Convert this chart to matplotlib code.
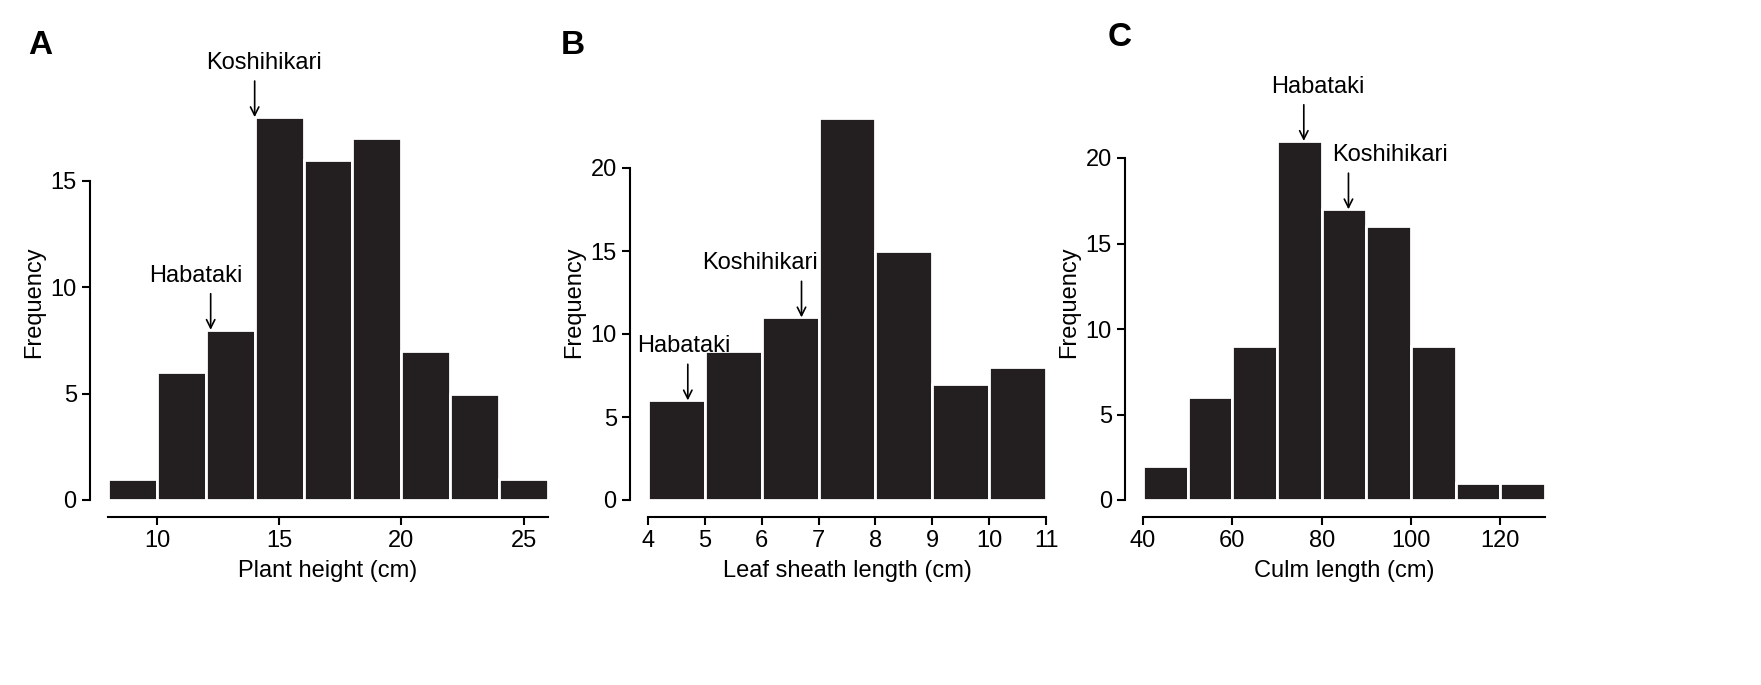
import matplotlib.pyplot as plt
import numpy as np

plt.rcParams['font.family'] = ['Liberation Sans', 'DejaVu Sans']

# Panel A: plant height
a_edges = np.arange(8, 27, 2)
a_counts = [1, 6, 8, 18, 16, 17, 7, 5, 1]
a_ticks = [10, 15, 20, 25]
a_yticks = [0, 5, 10, 15]
# (label, arrow x, bar height, text shift in px)
a_marks = [("Koshihikari", 14.0, 18, 9), ("Habataki", 12.2, 8, -15)]

# Panel B: leaf sheath length
b_edges = np.arange(4, 12, 1)
b_counts = [6, 9, 11, 23, 15, 7, 8]
b_ticks = [4, 5, 6, 7, 8, 9, 10, 11]
b_yticks = [0, 5, 10, 15, 20]
b_marks = [("Habataki", 4.7, 6, -4), ("Koshihikari", 6.7, 11, -42)]

# Panel C: culm length
c_edges = np.arange(40, 131, 10)
c_counts = [2, 6, 9, 21, 17, 16, 9, 1, 1]
c_ticks = [40, 60, 80, 100, 120]
c_yticks = [0, 5, 10, 15, 20]
c_marks = [("Habataki", 76, 21, 14), ("Koshihikari", 86, 17, 42)]

W, H = 1761, 685
fig = plt.figure(figsize=(W / 100, H / 100), dpi=100)


def panel(px_left, px_right, px_per_unit, edges, counts, xticks, yticks,
          xlabel, marks, letter, letter_xy):
    bottom, top = 500, 105
    ax = fig.add_axes([px_left / W, (H - bottom) / H,
                       (px_right - px_left) / W, (bottom - top) / H])
    ax.bar(edges[:-1], counts, width=np.diff(edges), align='edge',
           color='#231f20', edgecolor='white', linewidth=2)
    ax.set_xlim(edges[0], edges[-1])
    ax.set_ylim(0, (bottom - top) / px_per_unit)
    for s in ['top', 'right']:
        ax.spines[s].set_visible(False)
    ax.spines['left'].set_position(('outward', 13))
    ax.spines['bottom'].set_position(('outward', 12))
    ax.spines['left'].set_bounds(yticks[0], yticks[-1])
    ax.spines['bottom'].set_bounds(edges[0], edges[-1])
    for s in ['left', 'bottom']:
        ax.spines[s].set_linewidth(1.5)
    ax.set_xticks(xticks)
    ax.set_yticks(yticks)
    ax.tick_params(labelsize=17, width=1.5, length=6)
    ax.set_xlabel(xlabel, fontsize=17, labelpad=6)
    ax.set_ylabel("Frequency", fontsize=17)
    for name, x, y, dx in marks:
        ax.annotate('', xy=(x, y), xytext=(0, 26), textcoords='offset points',
                    arrowprops=dict(arrowstyle='->', color='black', lw=1.2,
                                    shrinkA=0, shrinkB=0, mutation_scale=15))
        ax.annotate(name, xy=(x, y), xytext=(dx * 0.72, 31),
                    textcoords='offset points', ha='center', va='bottom',
                    fontsize=17)
    fig.text(letter_xy[0] / W, 1 - letter_xy[1] / H, letter, fontsize=24,
             fontweight='bold', ha='center', va='center')
    return ax


panel(108, 548, 21.27, a_edges, a_counts, a_ticks, a_yticks,
      "Plant height (cm)", a_marks, "A", (40, 45))
panel(648, 1046, 16.6, b_edges, b_counts, b_ticks, b_yticks,
      "Leaf sheath length (cm)", b_marks, "B", (573, 45))
panel(1143, 1545, 17.1, c_edges, c_counts, c_ticks, c_yticks,
      "Culm length (cm)", c_marks, "C", (1120, 38))

fig.savefig("out.png", dpi=100)
